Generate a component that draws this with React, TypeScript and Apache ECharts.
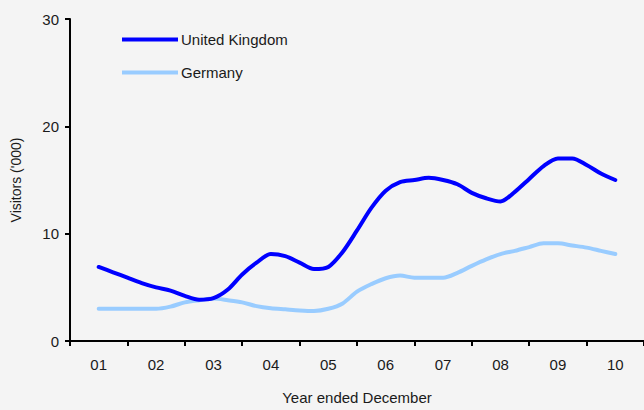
import React, { useEffect, useRef } from "react";
import * as echarts from "echarts";

// Year-end labels (year ended December)
const years = ["01", "02", "03", "04", "05", "06", "07", "08", "09", "10"];

// Quarterly rolling values, Dec 2001 .. Dec 2010 (thousands of visitors)
const unitedKingdom = [
  6.9, 6.4, 5.9, 5.4, 5.0, 4.7, 4.2, 3.85, 4.0, 4.8, 6.2, 7.3, 8.1,
  7.9, 7.3, 6.7, 6.9, 8.3, 10.3, 12.4, 14.0, 14.8, 15.0, 15.2, 15.0,
  14.6, 13.8, 13.3, 13.0, 13.9, 15.1, 16.3, 17.0, 17.0, 16.4, 15.6, 15.0,
];
const germany = [
  3.0, 3.0, 3.0, 3.0, 3.0, 3.2, 3.6, 3.8, 3.95, 3.8, 3.6, 3.25, 3.05,
  2.95, 2.85, 2.8, 3.0, 3.5, 4.6, 5.3, 5.85, 6.1, 5.9, 5.9, 5.9,
  6.35, 7.0, 7.6, 8.1, 8.4, 8.75, 9.1, 9.1, 8.9, 8.7, 8.4, 8.1,
];
const yTicks = { min: 0, max: 30, interval: 10 };

// first point sits at the centre of the first year band; 4 quarters per year
const toPoints = (vals: number[]) => vals.map((v, i) => [0.5 + i / 4, v]);

const FONT = "Liberation Sans, Arial, sans-serif";
const TXT = "#1a1a1a";
const FS = 15;

export default function App() {
  const ref = useRef<HTMLDivElement>(null);
  useEffect(() => {
    document.body.style.margin = "0";
    if (!ref.current) return;
    const chart = echarts.init(ref.current, null, { renderer: "svg" });
    chart.setOption({
      animation: false,
      backgroundColor: "#f4f4f4",
      textStyle: { fontFamily: FONT, color: TXT },
      grid: { left: 70, right: 0, top: 19, height: 329, containLabel: false },
      legend: {
        orient: "vertical",
        left: 117,
        top: 27,
        padding: 5,
        itemWidth: 56,
        itemHeight: 4,
        itemGap: 18,
        icon: "rect",
        textStyle: { fontFamily: FONT, fontSize: FS, color: TXT, padding: [0, 0, 0, -2] },
        data: ["United Kingdom", "Germany"],
      },
      xAxis: [
        {
          type: "category",
          data: years,
          boundaryGap: true,
          name: "Year ended December",
          nameLocation: "middle",
          nameGap: 49,
          nameTextStyle: { fontFamily: FONT, fontSize: FS, color: TXT },
          axisLine: { lineStyle: { color: "#000", width: 2 } },
          axisTick: { show: true, length: 5, interval: 0, alignWithLabel: false, lineStyle: { color: "#000", width: 2 } },
          axisLabel: { fontFamily: FONT, fontSize: FS, color: TXT, margin: 16, interval: 0 },
          splitLine: { show: false },
        },
        {
          type: "value",
          min: 0,
          max: 10,
          show: false,
        },
      ],
      yAxis: {
        type: "value",
        min: yTicks.min,
        max: yTicks.max,
        interval: yTicks.interval,
        name: "Visitors ('000)",
        nameLocation: "middle",
        nameGap: 47,
        nameTextStyle: { fontFamily: FONT, fontSize: 14, color: TXT },
        axisLine: { show: true, lineStyle: { color: "#000", width: 2 } },
        axisTick: { show: true, length: 5, lineStyle: { color: "#000", width: 2 } },
        axisLabel: { fontFamily: FONT, fontSize: FS, color: TXT, margin: 11 },
        splitLine: { show: false },
      },
      series: [
        {
          name: "United Kingdom",
          type: "line",
          xAxisIndex: 1,
          data: toPoints(unitedKingdom),
          smooth: 0.3,
          symbol: "none",
          lineStyle: { color: "#0000ff", width: 4, cap: "round" },
          itemStyle: { color: "#0000ff" },
          z: 3,
        },
        {
          name: "Germany",
          type: "line",
          xAxisIndex: 1,
          data: toPoints(germany),
          smooth: 0.3,
          symbol: "none",
          lineStyle: { color: "#99ccff", width: 4, cap: "round" },
          itemStyle: { color: "#99ccff" },
          z: 2,
        },
      ],
    });
    return () => chart.dispose();
  }, []);
  return <div ref={ref} style={{ width: 644, height: 410 }} />;
}
